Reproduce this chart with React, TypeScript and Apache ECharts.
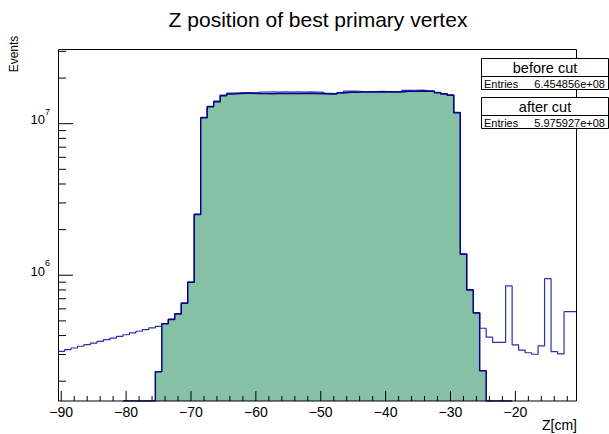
import React, { useEffect, useRef } from "react";
import * as echarts from "echarts";

const TITLE = "Z position of best primary vertex";
const X_TITLE = "Z[cm]";
const Y_TITLE = "Events";
const X_MIN = -90.5;
const X_MAX = -10.5;
const Y_MIN = 1.48e5;
const Y_MAX = 3.11e7;
const BIN_WIDTH = 1;

// "before cut" histogram: first bin centre -90, 1 cm bins
const BEFORE_FIRST_BIN = -90;
const beforeCounts = [
  3.15e5, 3.23e5, 3.31e5, 3.4e5, 3.48e5, 3.57e5, 3.66e5, 3.76e5, 3.85e5, 3.95e5,
  4.05e5, 4.16e5, 4.27e5, 4.38e5, 4.5e5,
  4.6e5, 4.8e5, 5.13e5, 5.58e5, 6.56e5, 9.02e5, 2.53e6, 1.1e7, 1.3e7, 1.41e7,
  1.545e7, 1.59e7, 1.6e7, 1.605e7, 1.6e7, 1.6e7,
  1.618e7, 1.62e7, 1.615e7, 1.62e7, 1.618e7, 1.62e7, 1.616e7, 1.62e7, 1.615e7, 1.61e7,
  1.585e7, 1.58e7, 1.605e7, 1.64e7, 1.64e7, 1.63e7, 1.63e7, 1.63e7, 1.632e7, 1.63e7,
  1.628e7, 1.63e7, 1.66e7, 1.662e7, 1.665e7, 1.65e7, 1.645e7, 1.61e7, 1.58e7, 1.55e7,
  1.19e7, 1.385e6, 8.05e5, 5.68e5, 4.47e5,
  3.9e5, 3.61e5, 3.61e5, 8.5e5, 3.47e5, 3.21e5, 3.08e5, 3.01e5, 3.42e5, 9.5e5,
  3.13e5, 3.03e5, 5.75e5, 5.75e5,
];
const BEFORE_ENTRIES = "6.454856e+08";

// "after cut" histogram: first bin centre -80, 1 cm bins
const AFTER_FIRST_BIN = -80;
const afterCounts = [
  0, 0, 0, 0, 0,
  2.31e5, 4.78e5, 5.11e5, 5.56e5, 6.54e5, 8.99e5, 2.52e6, 1.095e7, 1.295e7, 1.397e7,
  1.53e7, 1.57e7, 1.58e7, 1.587e7, 1.587e7, 1.58e7,
  1.58e7, 1.578e7, 1.582e7, 1.58e7, 1.585e7, 1.583e7, 1.58e7, 1.584e7, 1.58e7, 1.578e7,
  1.57e7, 1.568e7, 1.594e7, 1.61e7, 1.615e7, 1.618e7, 1.62e7, 1.618e7, 1.622e7, 1.62e7,
  1.617e7, 1.62e7, 1.635e7, 1.637e7, 1.64e7, 1.637e7, 1.635e7, 1.6e7, 1.57e7, 1.54e7,
  1.18e7, 1.376e6, 8.0e5, 5.64e5, 2.34e5,
  0, 0, 0, 0,
];
const AFTER_ENTRIES = "5.975927e+08";

const xMajorTicks = [-90, -80, -70, -60, -50, -40, -30, -20];
const xMinorTicks = [
  -88, -86, -84, -82, -78, -76, -74, -72, -68, -66, -64, -62, -58, -56, -54, -52,
  -48, -46, -44, -42, -38, -36, -34, -32, -28, -26, -24, -22, -18, -16, -14, -12,
];
const yMajorTicks = [1e6, 1e7];
const yMinorTicks = [
  2e5, 3e5, 4e5, 5e5, 6e5, 7e5, 8e5, 9e5,
  2e6, 3e6, 4e6, 5e6, 6e6, 7e6, 8e6, 9e6,
  2e7, 3e7,
];

const FONT = "'Liberation Sans', Arial, Helvetica, sans-serif";

function histPoints(firstCentre: number, counts: number[]) {
  const pts: number[][] = [];
  counts.forEach((c, i) => {
    const lo = firstCentre - BIN_WIDTH / 2 + i * BIN_WIDTH;
    const hi = lo + BIN_WIDTH;
    const v = c > 0 ? c : Y_MIN;
    pts.push([lo, v], [hi, v]);
  });
  return pts;
}

export default function App() {
  const ref = useRef<HTMLDivElement>(null);
  useEffect(() => {
    if (!ref.current) return;
    const chart = echarts.init(ref.current, null, { renderer: "svg" });

    const tickData: number[][] = [];
    xMajorTicks.forEach((t) => tickData.push([t, Y_MIN, 10, 0]));
    xMinorTicks.forEach((t) => tickData.push([t, Y_MIN, 5, 0]));
    yMajorTicks.forEach((t) => tickData.push([X_MIN, t, 15, 1]));
    yMinorTicks.forEach((t) => tickData.push([X_MIN, t, 8, 1]));

    const L = 58, T = 49, R = 577, B = 401;

    const legendBox = (top: number, title: string, entries: string) => [
      {
        type: "rect", z: 70,
        shape: { x: 481.5, y: top + 0.5, width: 127, height: 31 },
        style: { fill: "#fff", stroke: "#000", lineWidth: 1 },
      },
      {
        type: "line", z: 71,
        shape: { x1: 481.5, y1: top + 18.5, x2: 608.5, y2: top + 18.5 },
        style: { stroke: "#000", lineWidth: 1 },
      },
      {
        type: "text", z: 72, x: 545, y: top + 9.5,
        style: { text: title, fontSize: 14.5, fontFamily: FONT, fill: "#000", align: "center", verticalAlign: "middle" },
      },
      {
        type: "text", z: 72, x: 484, y: top + 25.5,
        style: { text: "Entries", fontSize: 11, fontFamily: FONT, fill: "#000", align: "left", verticalAlign: "middle" },
      },
      {
        type: "text", z: 72, x: 605, y: top + 25.5,
        style: { text: entries, fontSize: 11, fontFamily: FONT, fill: "#000", align: "right", verticalAlign: "middle" },
      },
    ];

    chart.setOption({
      animation: false,
      backgroundColor: "#ffffff",
      grid: { left: L, top: T, right: 609 - R, bottom: 434 - B, containLabel: false },
      xAxis: {
        type: "value",
        min: X_MIN,
        max: X_MAX,
        splitNumber: 8,
        axisLine: { show: false },
        axisTick: { show: false },
        splitLine: { show: false },
        axisLabel: {
          showMinLabel: false,
          showMaxLabel: false,
          margin: 4,
          fontSize: 14,
          fontFamily: FONT,
          color: "#000",
          formatter: (v: number) => String(v).replace("-", "\u2212"),
        },
      },
      yAxis: {
        type: "log",
        logBase: 10,
        min: Y_MIN,
        max: Y_MAX,
        axisLine: { show: false },
        axisTick: { show: false },
        splitLine: { show: false },
        axisLabel: {
          showMinLabel: false,
          showMaxLabel: false,
          margin: 8,
          padding: [0, 0, 14, 0],
          formatter: (v: number) => {
            const e = Math.round(Math.log10(v));
            return `{b|10}{e|${e}}`;
          },
          rich: {
            b: { fontSize: 13, fontFamily: FONT, color: "#000", verticalAlign: "bottom", lineHeight: 19 },
            e: { fontSize: 9, fontFamily: FONT, color: "#000", verticalAlign: "top", lineHeight: 12 },
          },
        },
      },
      series: [
        {
          name: "before cut",
          type: "line",
          data: histPoints(BEFORE_FIRST_BIN, beforeCounts),
          symbol: "none",
          lineStyle: { color: "#2f2fae", width: 1.2 },
          z: 2,
        },
        {
          name: "after cut",
          type: "line",
          data: histPoints(AFTER_FIRST_BIN, afterCounts),
          symbol: "none",
          lineStyle: { color: "#00008b", width: 1.5 },
          areaStyle: { color: "#86c1a6", opacity: 1, origin: "start" },
          z: 3,
        },
        {
          type: "custom",
          name: "ticks",
          data: tickData,
          z: 5,
          silent: true,
          renderItem: (params: any, api: any) => {
            const p = api.coord([api.value(0), api.value(1)]);
            const len = api.value(2);
            const isX = api.value(3) === 0;
            return {
              type: "line",
              shape: isX
                ? { x1: p[0], y1: p[1], x2: p[0], y2: p[1] - len }
                : { x1: p[0], y1: p[1], x2: p[0] + len, y2: p[1] },
              style: { stroke: "#000", lineWidth: 1 },
            };
          },
        },
      ],
      graphic: [
        {
          type: "rect",
          z: 50,
          shape: { x: L + 0.5, y: T + 0.5, width: R - L - 1, height: B - T - 0.5 },
          style: { fill: "none", stroke: "#000", lineWidth: 1 },
          silent: true,
        },
        {
          type: "text",
          z: 60,
          x: 318,
          y: 19,
          style: { text: TITLE, fontSize: 21, fontFamily: FONT, fill: "#000", align: "center", verticalAlign: "middle" },
        },
        {
          type: "text",
          z: 60,
          x: 14,
          y: 54,
          rotation: Math.PI / 2,
          style: { text: Y_TITLE, fontSize: 12, fontFamily: FONT, fill: "#000", align: "center", verticalAlign: "middle" },
        },
        {
          type: "text",
          z: 60,
          x: R,
          y: 425,
          style: { text: X_TITLE, fontSize: 14, fontFamily: FONT, fill: "#000", align: "right", verticalAlign: "middle" },
        },
        ...legendBox(58, "before cut", BEFORE_ENTRIES),
        ...legendBox(97, "after cut", AFTER_ENTRIES),
      ],
    });
    return () => chart.dispose();
  }, []);
  return (
    <div
      ref={ref}
      style={{ position: "fixed", left: 0, top: 0, width: 609, height: 434, background: "#fff" }}
    />
  );
}
